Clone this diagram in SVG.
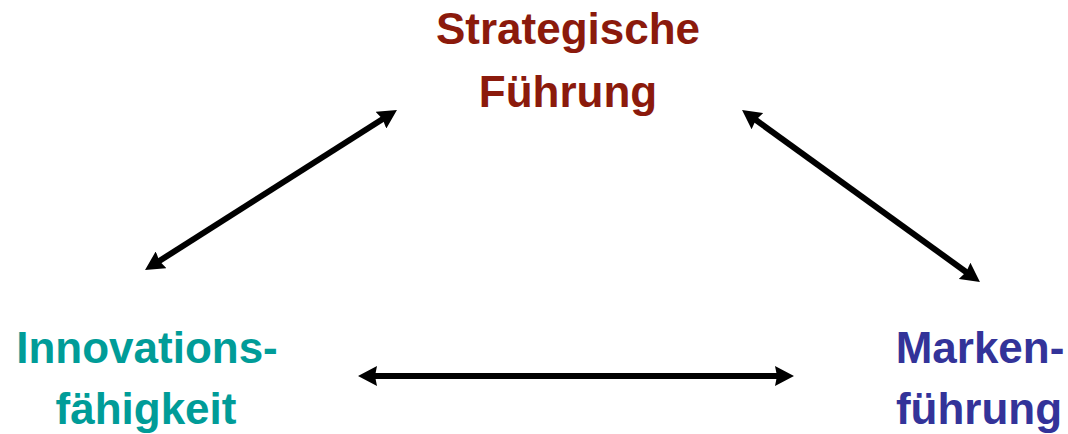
<svg xmlns="http://www.w3.org/2000/svg" width="1068" height="434" viewBox="0 0 1068 434">
<defs>
<style>
text{font-family:"Liberation Sans",Arial,sans-serif;font-weight:bold;font-size:44px;text-anchor:middle}
.s{fill:#8B1A0C}.i{fill:#009C98}.m{fill:#333399}
.c{stroke:#000;stroke-width:6;fill:none;marker-start:url(#a);marker-end:url(#a)}
</style>
<marker id="a" viewBox="0 0 19 20" refX="4" refY="10" markerUnits="userSpaceOnUse" markerWidth="19" markerHeight="20" orient="auto-start-reverse">
<path d="M0,0 L19,10 L0,20 L2,10 Z" fill="#000"/>
</marker>
</defs>
<rect width="1068" height="434" fill="#fff"/>
<g id="node-strategische">
<text class="s" x="568" y="44">Strategische</text>
<text class="s" x="568" y="107">Führung</text>
</g>
<g id="node-innovation">
<text class="i" x="147" y="363">Innovations-</text>
<text class="i" x="146" y="424">fähigkeit</text>
</g>
<g id="node-marke">
<text class="m" x="980" y="363">Marken-</text>
<text class="m" x="979" y="424">führung</text>
</g>
<g id="connectors">
<line class="c" x1="157.7" y1="262" x2="384.3" y2="118"/>
<line class="c" x1="754.2" y1="118.8" x2="967.8" y2="273.2"/>
<line class="c" x1="373" y1="376" x2="779" y2="376"/>
</g>
</svg>
